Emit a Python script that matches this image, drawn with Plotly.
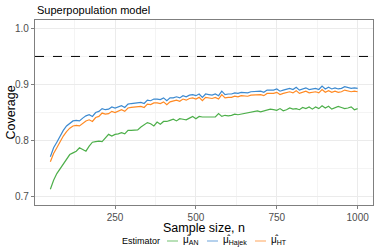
import plotly.graph_objects as go

n = list(range(50, 1001, 10))

cov_hajek = [0.771, 0.787, 0.797, 0.808, 0.818, 0.826, 0.831, 0.835, 0.836, 0.835,
             0.840, 0.844, 0.846, 0.843, 0.850, 0.852, 0.857, 0.855, 0.856, 0.860,
             0.858, 0.860, 0.862, 0.859, 0.865, 0.866, 0.867, 0.867, 0.868, 0.866,
             0.872, 0.871, 0.874, 0.874, 0.873, 0.876, 0.871, 0.876, 0.876, 0.878,
             0.876, 0.880, 0.878, 0.881, 0.882, 0.880, 0.883, 0.877, 0.883, 0.882,
             0.881, 0.883, 0.880, 0.888, 0.882, 0.883, 0.883, 0.885, 0.884, 0.886,
             0.886, 0.885, 0.887, 0.887, 0.888, 0.888, 0.886, 0.890, 0.890, 0.890,
             0.892, 0.888, 0.890, 0.891, 0.893, 0.891, 0.895, 0.890, 0.892, 0.894,
             0.891, 0.892, 0.893, 0.891, 0.897, 0.892, 0.895, 0.892, 0.894, 0.892,
             0.893, 0.896, 0.894, 0.893, 0.894, 0.893]

cov_ht = [0.762, 0.777, 0.787, 0.798, 0.808, 0.816, 0.822, 0.826, 0.827, 0.826,
          0.831, 0.835, 0.837, 0.834, 0.841, 0.843, 0.849, 0.847, 0.848, 0.852,
          0.850, 0.852, 0.855, 0.852, 0.858, 0.859, 0.860, 0.860, 0.861, 0.859,
          0.865, 0.864, 0.867, 0.867, 0.866, 0.869, 0.864, 0.869, 0.870, 0.872,
          0.870, 0.874, 0.872, 0.875, 0.876, 0.874, 0.877, 0.871, 0.877, 0.876,
          0.875, 0.877, 0.874, 0.882, 0.876, 0.877, 0.877, 0.879, 0.878, 0.880,
          0.880, 0.879, 0.881, 0.881, 0.882, 0.882, 0.880, 0.884, 0.884, 0.884,
          0.886, 0.882, 0.884, 0.885, 0.887, 0.885, 0.889, 0.884, 0.886, 0.888,
          0.885, 0.886, 0.887, 0.885, 0.891, 0.886, 0.889, 0.886, 0.888, 0.886,
          0.887, 0.890, 0.888, 0.887, 0.888, 0.887]

cov_an = [0.713, 0.729, 0.741, 0.750, 0.757, 0.768, 0.775, 0.778, 0.781, 0.787,
          0.784, 0.781, 0.790, 0.797, 0.798, 0.799, 0.798, 0.805, 0.811, 0.808,
          0.811, 0.812, 0.814, 0.812, 0.818, 0.818, 0.818, 0.819, 0.824, 0.828,
          0.832, 0.830, 0.826, 0.833, 0.829, 0.834, 0.834, 0.836, 0.838, 0.835,
          0.839, 0.838, 0.837, 0.840, 0.843, 0.839, 0.843, 0.842, 0.842, 0.841,
          0.842, 0.842, 0.848, 0.843, 0.845, 0.844, 0.845, 0.847, 0.846, 0.847,
          0.849, 0.849, 0.851, 0.852, 0.853, 0.851, 0.853, 0.854, 0.856, 0.855,
          0.854, 0.857, 0.853, 0.855, 0.858, 0.856, 0.857, 0.855, 0.859, 0.857,
          0.860, 0.856, 0.860, 0.857, 0.862, 0.858, 0.861, 0.856, 0.858, 0.861,
          0.859, 0.857, 0.858, 0.860, 0.855, 0.857]

target = 0.95
x_ticks = [250, 500, 750, 1000]
y_ticks = [0.7, 0.8, 0.9, 1.0]
y_tick_text = ["0.7", "0.8", "0.9", "1.0"]

series_names = ["μ̂<sub>AN</sub>", "μ̂<sub>Hajek</sub>", "μ̂<sub>HT</sub>"]
series_values = [cov_an, cov_hajek, cov_ht]
series_colors = ["#4DAF4A", "#3D8AD0", "#FF8A24"]
legend_key_colors = ["#92CF90", "#8DB9E3", "#FFBA80"]

FONT = "Liberation Sans, Arial, sans-serif"

W, H = 374, 249
ML, MR, MT, MB = 35, 1, 20, 44
PW, PH = W - ML - MR, H - MT - MB

fig = go.Figure()
for name, vals, col in zip(series_names, series_values, series_colors):
    fig.add_trace(go.Scatter(x=n, y=vals, mode="lines", name=name,
                             line=dict(color=col, width=1.2), showlegend=False))

fig.add_hline(y=target, line=dict(color="black", width=1, dash="dash"))

axis_common = dict(
    showline=True, mirror=True, linecolor="#7F7F7F", linewidth=1.3,
    showgrid=True, gridcolor="#EBEBEB", gridwidth=1,
    ticks="outside", ticklen=3, tickcolor="#7F7F7F", tickwidth=1,
    tickfont=dict(family=FONT, size=10, color="#4D4D4D"),
    zeroline=False, automargin=False,
)

fig.update_xaxes(range=[2.5, 1047.5], tickvals=x_ticks,
                 ticktext=[str(v) for v in x_ticks],
                 minor=dict(tickvals=[125, 375, 625, 875], showgrid=True,
                            gridcolor="#F4F4F4", gridwidth=0.6, ticks=""),
                 **axis_common)
fig.update_yaxes(range=[0.685, 1.015], tickvals=y_ticks, ticktext=y_tick_text,
                 minor=dict(tickvals=[0.75, 0.85, 0.95], showgrid=True,
                            gridcolor="#F4F4F4", gridwidth=0.6, ticks=""),
                 **axis_common)

def px_x(p):
    return (p - ML) / PW

def px_y(p):
    return 1 - (p - MT) / PH

annotations = [
    dict(text="Superpopulation model", x=px_x(35), y=px_y(10), xref="paper", yref="paper",
         xanchor="left", yanchor="middle", showarrow=False,
         font=dict(family=FONT, size=11, color="black")),
    dict(text="Sample size, n", x=0.5, y=px_y(228), xref="paper", yref="paper",
         xanchor="center", yanchor="middle", showarrow=False,
         font=dict(family=FONT, size=12.5, color="black")),
    dict(text="Coverage", x=px_x(10), y=0.5, xref="paper", yref="paper",
         xanchor="center", yanchor="middle", showarrow=False, textangle=-90,
         font=dict(family=FONT, size=12.5, color="black")),
    dict(text="Estimator", x=px_x(120), y=px_y(241), xref="paper", yref="paper",
         xanchor="left", yanchor="middle", showarrow=False,
         font=dict(family=FONT, size=9, color="black")),
]

shapes = []
key_starts = [167, 207, 255]
for name, kc, ks in zip(series_names, legend_key_colors, key_starts):
    shapes.append(dict(type="line", xref="paper", yref="paper",
                       x0=px_x(ks), x1=px_x(ks + 11), y0=px_y(241), y1=px_y(241),
                       line=dict(color=kc, width=1.3)))
    annotations.append(dict(text=name, x=px_x(ks + 14), y=px_y(240), xref="paper",
                            yref="paper", xanchor="left", yanchor="middle",
                            showarrow=False,
                            font=dict(family=FONT, size=10, color="black")))

fig.update_layout(
    width=W, height=H,
    margin=dict(l=ML, r=MR, t=MT, b=MB),
    paper_bgcolor="white", plot_bgcolor="white",
    font=dict(family=FONT),
    showlegend=False,
    annotations=annotations,
    shapes=fig.layout.shapes + tuple(shapes),
)

fig.write_html("out.html", config={"displayModeBar": False},
               post_script="document.body.style.margin='0';document.body.style.overflow='hidden';")
